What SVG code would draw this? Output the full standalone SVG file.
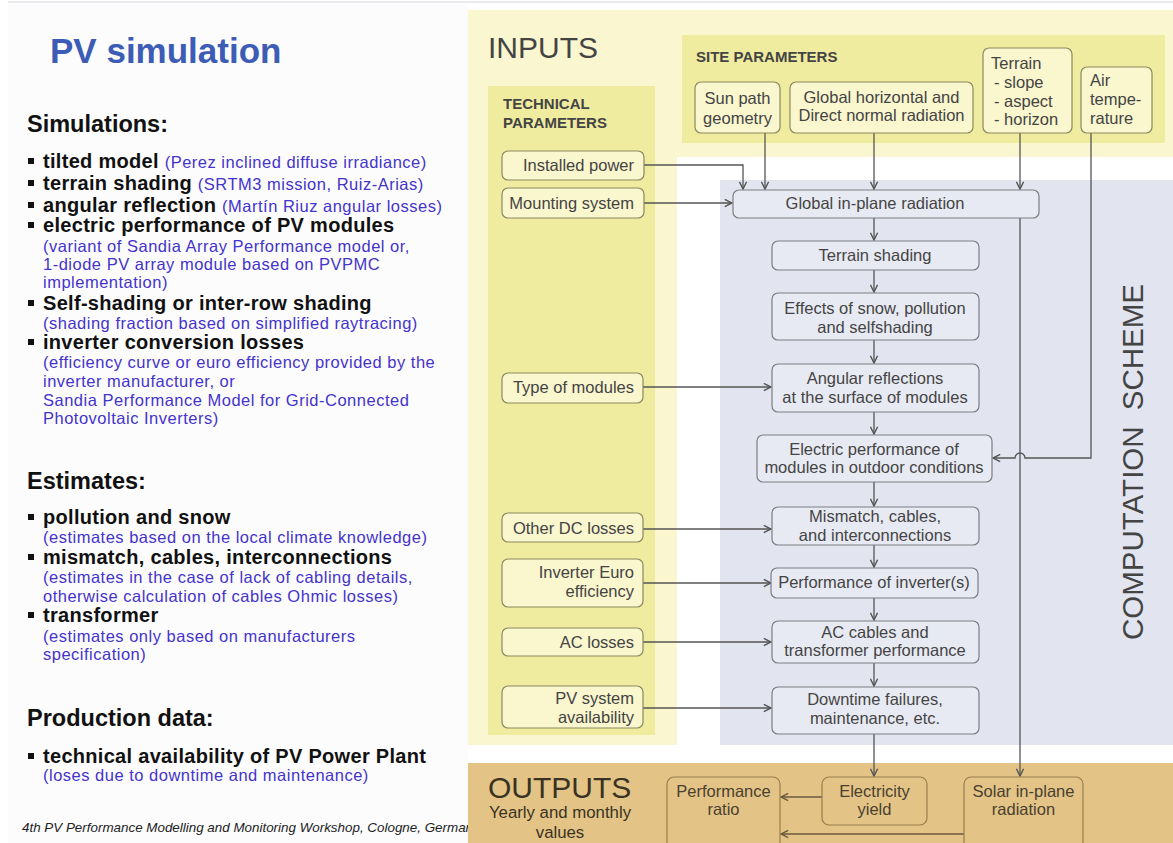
<svg xmlns="http://www.w3.org/2000/svg" width="1173" height="843" viewBox="0 0 1173 843">
<style>
.t{font-family:"Liberation Sans",Arial,sans-serif}
.bx{font-family:"Liberation Sans",Arial,sans-serif;font-size:16.5px;fill:#444}
.ob{font-family:"Liberation Sans",Arial,sans-serif;font-size:16.5px;fill:#4a4030}
.h{font-family:"Liberation Sans",Arial,sans-serif;font-weight:bold;font-size:20px;letter-spacing:0.3px;fill:#111}
.b{font-family:"Liberation Sans",Arial,sans-serif;font-size:16.5px;letter-spacing:0.5px;fill:#4433cc}
.sec{font-family:"Liberation Sans",Arial,sans-serif;font-weight:bold;font-size:23.5px;fill:#111}
.yb{fill:#faf6ce;stroke:#8c8860;stroke-width:1.2}
.cb{fill:#e8eaf3;stroke:#7c7c84;stroke-width:1.2}
.tb{fill:#e3c486;stroke:#9a7d4c;stroke-width:1.2}
.ln{fill:none;stroke:#555;stroke-width:1.3}
.lo{fill:none;stroke:#6a5a3c;stroke-width:1.3}
</style>
<defs>
<marker id="ar" viewBox="0 0 10 10" refX="9" refY="5" markerWidth="9" markerHeight="9" markerUnits="userSpaceOnUse" orient="auto">
<path d="M1,1 L9,5 L1,9" fill="none" stroke="#555" stroke-width="1.6"/>
</marker>
<marker id="ao" viewBox="0 0 10 10" refX="9" refY="5" markerWidth="9" markerHeight="9" markerUnits="userSpaceOnUse" orient="auto">
<path d="M1,1 L9,5 L1,9" fill="none" stroke="#6a5a3c" stroke-width="1.6"/>
</marker>
<clipPath id="fc"><rect x="0" y="800" width="468" height="43"/></clipPath>
</defs>
<rect x="0" y="0" width="1173" height="843" fill="#ffffff"/>
<line x1="8" y1="2" x2="1173" y2="2" stroke="#e2e3ea" stroke-width="1.5"/>
<rect x="8" y="4" width="460" height="839" fill="#fcfcfd"/>

<!-- left text -->
<g id="left-text">
<text class="t" x="50" y="63" font-size="35" font-weight="bold" fill="#3d5cb5">PV simulation</text>
<text class="sec" x="27" y="132">Simulations:</text>
<g fill="#111">
<rect x="28" y="158" width="6" height="6"/><rect x="28" y="180" width="6" height="6"/><rect x="28" y="202" width="6" height="6"/><rect x="28" y="222" width="6" height="6"/><rect x="28" y="300" width="6" height="6"/><rect x="28" y="339" width="6" height="6"/><rect x="28" y="514" width="6" height="6"/><rect x="28" y="554" width="6" height="6"/><rect x="28" y="612" width="6" height="6"/><rect x="28" y="753" width="6" height="6"/>
</g>
<text x="43" y="168"><tspan class="h">tilted model </tspan><tspan class="b">(Perez inclined diffuse irradiance)</tspan></text>
<text x="43" y="190"><tspan class="h">terrain shading </tspan><tspan class="b">(SRTM3 mission, Ruiz-Arias)</tspan></text>
<text x="43" y="212"><tspan class="h">angular reflection </tspan><tspan class="b">(Martín Riuz angular losses)</tspan></text>
<text class="h" x="43" y="232">electric performance of PV modules</text>
<text class="b" x="43" y="252">(variant of Sandia Array Performance model or,</text>
<text class="b" x="43" y="270">1-diode PV array module based on PVPMC</text>
<text class="b" x="43" y="288">implementation)</text>
<text class="h" x="43" y="310">Self-shading or inter-row shading</text>
<text class="b" x="43" y="329">(shading fraction based on simplified raytracing)</text>
<text class="h" x="43" y="349">inverter conversion losses</text>
<text class="b" x="43" y="368">(efficiency curve or euro efficiency provided by the</text>
<text class="b" x="43" y="387">inverter manufacturer, or</text>
<text class="b" x="43" y="406">Sandia Performance Model for Grid-Connected</text>
<text class="b" x="43" y="424">Photovoltaic Inverters)</text>
<text class="sec" x="27" y="489">Estimates:</text>
<text class="h" x="43" y="524">pollution and snow</text>
<text class="b" x="43" y="543">(estimates based on the local climate knowledge)</text>
<text class="h" x="43" y="564">mismatch, cables, interconnections</text>
<text class="b" x="43" y="583">(estimates in the case of lack of cabling details,</text>
<text class="b" x="43" y="602">otherwise calculation of cables Ohmic losses)</text>
<text class="h" x="43" y="622">transformer</text>
<text class="b" x="43" y="642">(estimates only based on manufacturers</text>
<text class="b" x="43" y="660">specification)</text>
<text class="sec" x="27" y="726">Production data:</text>
<text class="h" x="43" y="763">technical availability of PV Power Plant</text>
<text class="b" x="43" y="781">(loses due to downtime and maintenance)</text>
<text class="t" x="22" y="832" font-size="13.4" font-style="italic" fill="#222" clip-path="url(#fc)">4th PV Performance Modelling and Monitoring Workshop, Cologne, Germany</text>
</g>

<!-- regions -->
<g id="regions">
<path d="M468,10 H1173 V157 H677 V745 H468 Z" fill="#faf6d0"/>
<rect x="720" y="180" width="453" height="565" fill="#e2e4ef"/>
<rect x="488" y="86" width="167" height="649" fill="#f0ec9f"/>
<rect x="682" y="35" width="483" height="108" fill="#f0ec9f"/>
<rect x="468" y="763" width="705" height="80" fill="#e3c486"/>
<text class="t" x="488" y="58" font-size="30" fill="#444">INPUTS</text>
<text class="t" x="696" y="62" font-size="15" font-weight="bold" fill="#444">SITE PARAMETERS</text>
<text class="t" x="503" y="109" font-size="15" font-weight="bold" fill="#444">TECHNICAL</text>
<text class="t" x="503" y="128" font-size="15" font-weight="bold" fill="#444">PARAMETERS</text>
<text class="t" transform="translate(1143,462) rotate(-90)" text-anchor="middle" font-size="29.5" word-spacing="8" fill="#444">COMPUTATION SCHEME</text>
<text class="t" x="488" y="798" font-size="30" fill="#3a3222">OUTPUTS</text>
<text class="t" x="560" y="818" font-size="16.8" text-anchor="middle" fill="#3a3222">Yearly and monthly</text>
<text class="t" x="560" y="838" font-size="16.8" text-anchor="middle" fill="#3a3222">values</text>
</g>

<!-- connectors -->
<g id="connectors">
<path class="ln" d="M644,165 H743 V189" marker-end="url(#ar)"/>
<path class="ln" d="M765,133 V189" marker-end="url(#ar)"/>
<path class="ln" d="M644,203 H732" marker-end="url(#ar)"/>
<path class="ln" d="M874,133 V189" marker-end="url(#ar)"/>
<path class="ln" d="M1020,133 V189" marker-end="url(#ar)"/>
<path class="ln" d="M874,218 V240" marker-end="url(#ar)"/>
<path class="ln" d="M874,270 V292" marker-end="url(#ar)"/>
<path class="ln" d="M874,340 V363" marker-end="url(#ar)"/>
<path class="ln" d="M874,412 V434" marker-end="url(#ar)"/>
<path class="ln" d="M874,482 V506" marker-end="url(#ar)"/>
<path class="ln" d="M874,545 V567" marker-end="url(#ar)"/>
<path class="ln" d="M874,598 V620" marker-end="url(#ar)"/>
<path class="ln" d="M874,663 V686" marker-end="url(#ar)"/>
<path class="ln" d="M874,734 V776" marker-end="url(#ar)"/>
<path class="ln" d="M1020,218 V776" marker-end="url(#ar)"/>
<path class="ln" d="M1091,133 V458 H1025 A5,5 0 0 0 1015,458 H993" marker-end="url(#ar)"/>
<path class="ln" d="M643,387 H771" marker-end="url(#ar)"/>
<path class="ln" d="M643,529 H771" marker-end="url(#ar)"/>
<path class="ln" d="M643,583 H771" marker-end="url(#ar)"/>
<path class="ln" d="M643,642 H771" marker-end="url(#ar)"/>
<path class="ln" d="M643,708 H771" marker-end="url(#ar)"/>
<path class="lo" d="M822,797 H781" marker-end="url(#ao)"/>
<path class="lo" d="M964,834 H781" marker-end="url(#ao)"/>
</g>

<!-- site parameter nodes -->
<g id="n-sunpath"><rect class="yb" x="695" y="82" width="85" height="51" rx="6"/><text class="bx" x="737.5" y="104" text-anchor="middle">Sun path</text><text class="bx" x="737.5" y="124" text-anchor="middle">geometry</text></g>
<g id="n-global-horizontal"><rect class="yb" x="790" y="82" width="183" height="51" rx="6"/><text class="bx" x="881.5" y="103" text-anchor="middle">Global horizontal and</text><text class="bx" x="881.5" y="121" text-anchor="middle">Direct normal radiation</text></g>
<g id="n-terrain"><rect class="yb" x="983" y="48" width="89" height="85" rx="6"/><text class="bx" x="991" y="69">Terrain</text><text class="bx" x="994" y="88">- slope</text><text class="bx" x="994" y="107">- aspect</text><text class="bx" x="994" y="125">- horizon</text></g>
<g id="n-airtemp"><rect class="yb" x="1081" y="67" width="71" height="66" rx="6"/><text class="bx" x="1090" y="86">Air</text><text class="bx" x="1090" y="105">tempe-</text><text class="bx" x="1090" y="124">rature</text></g>

<!-- technical parameter nodes -->
<g id="n-installed"><rect class="yb" x="502" y="151" width="142" height="29" rx="6"/><text class="bx" x="634" y="171" text-anchor="end">Installed power</text></g>
<g id="n-mounting"><rect class="yb" x="502" y="188" width="142" height="30" rx="6"/><text class="bx" x="634" y="209" text-anchor="end">Mounting system</text></g>
<g id="n-type"><rect class="yb" x="502" y="373" width="141" height="30" rx="6"/><text class="bx" x="634" y="393" text-anchor="end">Type of modules</text></g>
<g id="n-otherdc"><rect class="yb" x="502" y="513" width="141" height="29" rx="6"/><text class="bx" x="634" y="534" text-anchor="end">Other DC losses</text></g>
<g id="n-inverter-euro"><rect class="yb" x="502" y="559" width="141" height="48" rx="6"/><text class="bx" x="634" y="578" text-anchor="end">Inverter Euro</text><text class="bx" x="634" y="597" text-anchor="end">efficiency</text></g>
<g id="n-aclosses"><rect class="yb" x="502" y="628" width="141" height="28" rx="6"/><text class="bx" x="634" y="648" text-anchor="end">AC losses</text></g>
<g id="n-availability"><rect class="yb" x="502" y="686" width="141" height="42" rx="6"/><text class="bx" x="634" y="704" text-anchor="end">PV system</text><text class="bx" x="634" y="723" text-anchor="end">availability</text></g>

<!-- computation nodes -->
<g id="n-global-inplane"><rect class="cb" x="733" y="190" width="306" height="28" rx="6"/><text class="bx" x="875" y="209" text-anchor="middle">Global in-plane radiation</text></g>
<g id="n-terrain-shading"><rect class="cb" x="772" y="241" width="207" height="29" rx="6"/><text class="bx" x="875" y="261" text-anchor="middle">Terrain shading</text></g>
<g id="n-effects"><rect class="cb" x="772" y="293" width="207" height="47" rx="6"/><text class="bx" x="875" y="314" text-anchor="middle">Effects of snow, pollution</text><text class="bx" x="875" y="333" text-anchor="middle">and selfshading</text></g>
<g id="n-angular"><rect class="cb" x="772" y="364" width="207" height="48" rx="6"/><text class="bx" x="875" y="384" text-anchor="middle">Angular reflections</text><text class="bx" x="875" y="403" text-anchor="middle">at the surface of modules</text></g>
<g id="n-electric"><rect class="cb" x="757" y="435" width="235" height="47" rx="6"/><text class="bx" x="874" y="455" text-anchor="middle">Electric performance of</text><text class="bx" x="874" y="473" text-anchor="middle">modules in outdoor conditions</text></g>
<g id="n-mismatch"><rect class="cb" x="772" y="507" width="207" height="38" rx="6"/><text class="bx" x="875" y="522" text-anchor="middle">Mismatch, cables,</text><text class="bx" x="875" y="541" text-anchor="middle">and interconnections</text></g>
<g id="n-inverter"><rect class="cb" x="771" y="568" width="207" height="30" rx="6"/><text class="bx" x="874" y="588" text-anchor="middle">Performance of inverter(s)</text></g>
<g id="n-ac"><rect class="cb" x="772" y="621" width="207" height="42" rx="6"/><text class="bx" x="875" y="638" text-anchor="middle">AC cables and</text><text class="bx" x="875" y="656" text-anchor="middle">transformer performance</text></g>
<g id="n-downtime"><rect class="cb" x="772" y="687" width="207" height="47" rx="6"/><text class="bx" x="875" y="705" text-anchor="middle">Downtime failures,</text><text class="bx" x="875" y="724" text-anchor="middle">maintenance, etc.</text></g>

<!-- outputs -->
<g id="n-perf-ratio"><rect class="tb" x="667" y="777" width="113" height="72" rx="7"/><text class="ob" x="723.5" y="797" text-anchor="middle">Performance</text><text class="ob" x="723.5" y="815" text-anchor="middle">ratio</text></g>
<g id="n-electricity"><rect class="tb" x="822" y="777" width="105" height="48" rx="7"/><text class="ob" x="874.5" y="797" text-anchor="middle">Electricity</text><text class="ob" x="874.5" y="815" text-anchor="middle">yield</text></g>
<g id="n-solar"><rect class="tb" x="964" y="777" width="119" height="72" rx="7"/><text class="ob" x="1023.5" y="797" text-anchor="middle">Solar in-plane</text><text class="ob" x="1023.5" y="815" text-anchor="middle">radiation</text></g>
</svg>
